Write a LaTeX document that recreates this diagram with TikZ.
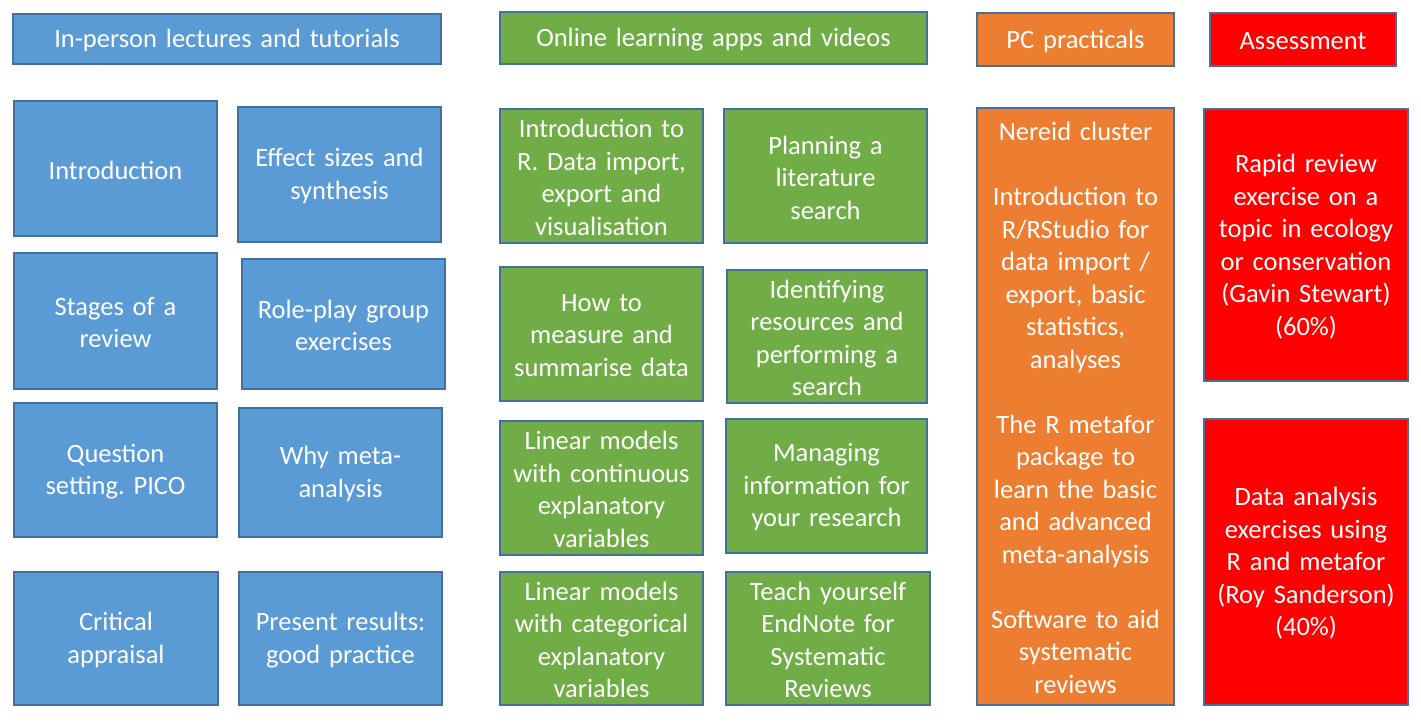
\documentclass[tikz,border=0pt]{standalone}
\usepackage{fontspec}
\setmainfont{Carlito}
\frenchspacing
\definecolor{lecblue}{HTML}{5B9BD5}
\definecolor{onlgreen}{HTML}{70AD47}
\definecolor{pcorange}{HTML}{ED7D31}
\definecolor{assred}{HTML}{FF0000}
\definecolor{edgeblue}{HTML}{41719C}
\tikzset{
  card/.style={draw=edgeblue, line width=1.4pt, inner sep=0pt},
  cardtext/.style={text=white, align=center, inner sep=0pt,
    font=\fontsize{26.5}{32.5}\selectfont},
  lec/.style={card, fill=lecblue},
  onl/.style={card, fill=onlgreen},
  prac/.style={card, fill=pcorange},
  assess/.style={card, fill=assred},
}
% \cardbox{name}{style}{x1}{y1}{x2}{y2}{text}: coloured card with its centred caption
\newcommand\cardbox[7]{%
  \node[#2, minimum width={(#5-#3)*1pt}, minimum height={(#6-#4)*1pt}]
    (#1) at ({(#3+#5)/2},{(#4+#6)/2}) {};
  \node[cardtext, text width={(#5-#3-4)*1pt}, yshift=-1.5pt] (#1-text) at (#1.center) {#7};}
\begin{document}
\begin{tikzpicture}[x=1pt, y=-1pt]
\useasboundingbox (0,0) rectangle (1421,722);
% column headers
\cardbox{hlec}{lec}{13}{14}{441}{64}{In-person lectures and tutorials}
\cardbox{honl}{onl}{500}{12}{927}{64}{Online learning apps and videos}
\cardbox{hprac}{prac}{977}{13}{1174}{66}{PC practicals}
\cardbox{hass}{assess}{1210}{13}{1396}{66}{Assessment}
% lectures and tutorials
\cardbox{intro}{lec}{14}{101}{217}{236}{Introduction}
\cardbox{effect}{lec}{238}{107}{441}{242}{Effect sizes and\\synthesis}
\cardbox{stages}{lec}{14}{253}{217}{389}{Stages of a\\review}
\cardbox{role}{lec}{242}{259}{445}{389}{Role-play group\\exercises}
\cardbox{question}{lec}{14}{403}{217}{537}{Question\\setting. PICO}
\cardbox{whyma}{lec}{239}{408}{442}{537}{Why meta-\\analysis}
\cardbox{critical}{lec}{14}{572}{218}{705}{Critical\\appraisal}
\cardbox{present}{lec}{239}{572}{442}{705}{Present results:\\good practice}
% online apps and videos
\cardbox{introR}{onl}{500}{109}{703}{243}{Introduction to\\R. Data import,\\export and\\visualisation}
\cardbox{planning}{onl}{724}{109}{927}{243}{Planning a\\literature\\search}
\cardbox{measure}{onl}{500}{267}{703}{401}{How to\\measure and\\summarise data}
\cardbox{identify}{onl}{727}{270}{927}{403}{Identifying\\resources and\\performing a\\search}
\cardbox{lincont}{onl}{500}{421}{703}{555}{Linear models\\with continuous\\explanatory\\variables}
\cardbox{managing}{onl}{726}{419}{927}{553}{Managing\\information for\\your research}
\cardbox{lincat}{onl}{500}{572}{703}{705}{Linear models\\with categorical\\explanatory\\variables}
\cardbox{endnote}{onl}{726}{572}{930}{705}{Teach yourself\\EndNote for\\Systematic\\Reviews}
% PC practicals
\cardbox{nereid}{prac}{977}{108}{1174}{705}{Nereid cluster\\[32.5pt]Introduction to\\R/RStudio for\\data import /\\export, basic\\statistics,\\analyses\\[32.5pt]The R metafor\\package to\\learn the basic\\and advanced\\meta-analysis\\[32.5pt]Software to aid\\systematic\\reviews}
% assessment
\cardbox{rapid}{assess}{1204}{109}{1408}{381}{Rapid review\\exercise on a\\topic in ecology\\or conservation\\(Gavin Stewart)\\(60\%)}
\cardbox{dataan}{assess}{1204}{419}{1408}{705}{Data analysis\\exercises using\\R and metafor\\(Roy Sanderson)\\(40\%)}
\end{tikzpicture}
\end{document}
